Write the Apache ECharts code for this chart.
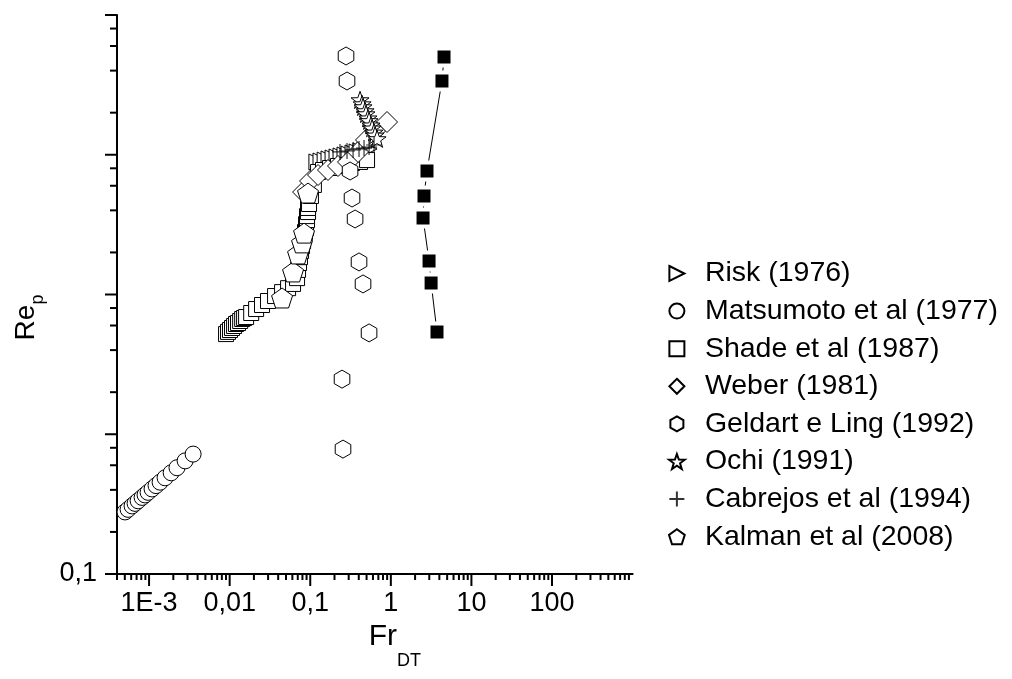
<!DOCTYPE html>
<html><head><meta charset="utf-8">
<script src="https://cdn.jsdelivr.net/npm/echarts@6/dist/echarts.min.js"></script>
<style>html,body{margin:0;padding:0;background:#fff}#c{width:1012px;height:679px}</style>
</head><body><div id="c"></div>
<script>
// ---- axis ranges & tick labels ----
const xMin = 0.0004, xMax = 1000, yMin = 0.1, yMax = 1000;
const xLabelExps = [-3, -2, -1, 0, 1, 2];
const xLabelTexts = ['1E-3', '0,01', '0,1', '1', '10', '100'];
const yLabelExps = [-1];
const yLabelTexts = ['0,1'];
const xMajorExps = [-3, -2, -1, 0, 1, 2];
const xMinorExps = [-4, -3, -2, -1, 0, 1, 2];
const xMinorMant = [2, 3, 4, 5, 6, 7, 8, 9];
const yMajorExps = [-1, 0, 1, 2, 3];
const yMinorExps = [-1, 0, 1, 2];
const yMinorMant = [2, 4, 6, 8];

// ---- series data (Fr_DT, Re_p) ----
const riskFr = [0.121,0.136,0.153,0.171,0.192,0.215,0.241,0.270,0.303,0.340,0.381,0.427,0.479,0.537];
const riskRe = [88.8,90.2,91.6,93.3,94.8,96.4,98.0,99.6,101.2,102.9,104.7,106.4,108.2,110.0];
const matsFr = [0.000503,0.000549,0.000615,0.00067,0.000731,0.000819,0.000892,0.000972,0.001089,0.00122,0.00137,0.00158,0.00188,0.00222,0.0028,0.00352];
const matsRe = [0.278,0.290,0.307,0.320,0.334,0.353,0.368,0.384,0.406,0.429,0.454,0.488,0.530,0.576,0.645,0.721];
const shadeFr = [0.00902,0.00955,0.0101,0.0107,0.01135,0.0120,0.0127,0.0135,0.0143,0.0151,0.0160,0.0185,0.0213,0.0252,0.0299,0.0366,0.0447,0.0531,0.0612,0.0686,0.0706,0.0726,0.0746,0.0769,0.0791,0.0815,0.0838,0.0861,0.0887,0.0887,0.0912,0.0912,0.0939,0.0939,0.0966,0.102,0.111,0.125,0.144,0.176,0.221,0.270,0.330,0.415,0.507];
const shadeRe = [5.21,5.40,5.57,5.76,5.95,6.15,6.25,6.46,6.68,6.79,6.90,7.37,7.87,8.41,8.98,9.75,10.4,11.1,11.9,13.1,15.0,16.8,18.5,20.5,22.2,24.1,26.2,28.0,29.9,31.9,34.1,36.4,38.9,41.6,44.4,50.7,60.8,75.3,77.8,80.4,83.1,84.5,87.3,88.8,91.6];
const weberFr = [0.0815,0.0995,0.125,0.166,0.221,0.294,0.392,0.492,0.637,0.897];
const weberRe = [54.1,64.9,71.6,77.8,83.1,88.8,104.7,127.6,147.9,171.5];
const geldFr = [0.278,0.286,0.312,0.330,0.360,0.403,0.452,0.537,0.248,0.255];
const geldRe = [509,337,76.5,49.0,34.7,17.1,11.9,5.31,2.48,0.783];
const ochiFr = [0.415,0.440,0.452,0.479,0.492,0.521,0.537,0.568,0.585,0.619,0.637,0.675];
const ochiRe = [247,231,220,206,196,183,175,163,155,145,138,130];
const cabrFr = [0.234,0.286,0.340,0.403,0.465,0.537,0.619];
const cabrRe = [104.7,106.4,108.2,110.0,111.7,113.5,117.4];
const kalmFr = [0.0447,0.0612,0.0706,0.0791,0.0838,0.0939];
const kalmRe = [9.44,14.5,19.5,23.4,27.5,53.2];
const blackFr = [4.57,4.31,2.81,2.58,2.51,2.98,3.16,3.74];
const blackRe = [501,337,76.5,50.7,35.2,17.4,12.1,5.40];

const names = ['Risk (1976)','Matsumoto et al (1977)','Shade et al (1987)','Weber (1981)','Geldart e Ling (1992)','Ochi (1991)','Cabrejos et al (1994)','Kalman et al (2008)'];

// symbols
const SYM = {
  tri: 'path://M0,0L10,5L0,10Z',
  rect: 'path://M0,0L10,0L10,10L0,10Z',
  diamond: 'path://M5,0L10,5L5,10L0,5Z',
  hex: 'path://M5,0L9.33,2.5L9.33,7.5L5,10L0.67,7.5L0.67,2.5Z',
  star: 'path://M10,0L12.35,6.76L19.51,6.91L13.8,11.24L15.88,18.09L10,14L4.12,18.09L6.2,11.24L0.49,6.91L7.65,6.76Z',
  plus: 'path://M5,0L5,10M0,5L10,5',
  pent: 'path://M10,0L19.51,6.91L15.88,18.09L4.12,18.09L0.49,6.91Z'
};

const FONT = '"Liberation Sans", Arial, sans-serif';
const zip = (a, b) => a.map((v, i) => [v, b[i]]);

function labelFor(exps, texts) {
  return function (v) {
    const l = Math.log10(v);
    const r = Math.round(l);
    if (Math.abs(l - r) > 1e-6) return '';
    const i = exps.indexOf(r);
    return i >= 0 ? texts[i] : '';
  };
}

// tick marks (drawn through the axes' scales)
const tickData = [];
xMajorExps.forEach(e => tickData.push([Math.pow(10, e), yMin, 0]));
xMinorExps.forEach(e => xMinorMant.forEach(m => { const v = m * Math.pow(10, e); if (v >= xMin * 0.999 && v < xMax) tickData.push([v, yMin, 1]); }));
yMajorExps.forEach(e => tickData.push([xMin, Math.pow(10, e), 2]));
yMinorExps.forEach(e => yMinorMant.forEach(m => tickData.push([xMin, m * Math.pow(10, e), 3])));

function scat(name, fr, re, symbol, size, extra) {
  return Object.assign({
    name, type: 'scatter', data: zip(fr, re), symbol, symbolSize: size, symbolKeepAspect: true,
    itemStyle: { color: '#fff', borderColor: '#000', borderWidth: 1, opacity: 1 },
    emphasis: { disabled: true }, silent: true
  }, extra || {});
}

const chart = echarts.init(document.getElementById('c'), null, { renderer: 'canvas' });
chart.setOption({
  backgroundColor: '#fff',
  animation: false,
  textStyle: { fontFamily: FONT },
  grid: { left: 117, top: 15, width: 515.6, height: 559, containLabel: false },
  legend: {
    orient: 'vertical', left: 668, top: 257, padding: 0, itemGap: 4.6, itemWidth: 30, itemHeight: 15,
    selectedMode: false,
    textStyle: { fontSize: 28.5, color: '#000', fontFamily: FONT, padding: [0, 0, 0, 8], lineHeight: 33 },
    data: [
      { name: names[0], icon: SYM.tri }, { name: names[1], icon: 'circle' }, { name: names[2], icon: SYM.rect },
      { name: names[3], icon: SYM.diamond }, { name: names[4], icon: SYM.hex }, { name: names[5], icon: SYM.star },
      { name: names[6], icon: SYM.plus }, { name: names[7], icon: SYM.pent }
    ]
  },
  xAxis: {
    type: 'log', logBase: 10, min: xMin, max: xMax,
    axisLine: { lineStyle: { color: '#000', width: 2 } },
    axisTick: { show: false }, splitLine: { show: false },
    axisLabel: { formatter: labelFor(xLabelExps, xLabelTexts), fontSize: 27, color: '#000', margin: 16, fontFamily: FONT, showMinLabel: true, showMaxLabel: true },
    name: '{a|Fr}{b|DT}', nameLocation: 'middle', nameGap: 30,
    nameTextStyle: { padding: [0, 0, 0, 40], rich: { a: { fontSize: 30, color: '#000', fontFamily: FONT }, b: { fontSize: 18, color: '#000', fontFamily: FONT, padding: [48, 0, 0, 0] } } }
  },
  yAxis: {
    type: 'log', logBase: 10, min: yMin, max: yMax,
    axisLine: { lineStyle: { color: '#000', width: 2 } },
    axisTick: { show: false }, splitLine: { show: false },
    axisLabel: { formatter: labelFor(yLabelExps, yLabelTexts), fontSize: 27, color: '#000', margin: 20, fontFamily: FONT },
    name: '{a|Re}{b|p}', nameLocation: 'middle', nameGap: 70, nameRotate: 90,
    nameTextStyle: { padding: [0, 46, 0, 0], rich: { a: { fontSize: 28, color: '#000', fontFamily: FONT }, b: { fontSize: 18, color: '#000', fontFamily: FONT, padding: [24, 0, 0, 0] } } }
  },
  series: [
    scat(names[0], riskFr, riskRe, SYM.tri, 16),
    scat(names[1], matsFr, matsRe, 'circle', 16),
    scat(names[2], shadeFr, shadeRe, 'rect', 15),
    scat(names[3], weberFr, weberRe, 'diamond', 21),
    scat(names[4], geldFr, geldRe, SYM.hex, 18),
    scat(names[5], ochiFr, ochiRe, SYM.star, 18),
    scat(names[6], cabrFr, cabrRe, SYM.plus, 16, { itemStyle: { color: 'rgba(0,0,0,0)', borderColor: '#000', borderWidth: 1.2 } }),
    scat(names[7], kalmFr, kalmRe, SYM.pent, 21),
    {
      name: 'dados', type: 'line', data: zip(blackFr, blackRe), symbol: 'rect', symbolSize: 17, showAllSymbol: true,
      lineStyle: { color: '#000', width: 1 }, itemStyle: { color: '#000', borderColor: '#fff', borderWidth: 4 },
      emphasis: { disabled: true }, silent: true, z: 3
    },
    {
      type: 'custom', silent: true, clip: false, z: 4, data: tickData,
      renderItem: function (params, api) {
        const k = api.value(2);
        if (k === 0 || k === 1) {
          const p = api.coord([api.value(0), yMin]);
          const len = k === 0 ? 12 : 6;
          return { type: 'line', shape: { x1: p[0], y1: p[1], x2: p[0], y2: p[1] + len }, style: { stroke: '#000', lineWidth: 2 } };
        }
        const p = api.coord([xMin, api.value(1)]);
        const len = k === 2 ? 12 : 7;
        return { type: 'line', shape: { x1: p[0] - len, y1: p[1], x2: p[0], y2: p[1] }, style: { stroke: '#000', lineWidth: 2 } };
      }
    }
  ]
});
</script></body></html>
